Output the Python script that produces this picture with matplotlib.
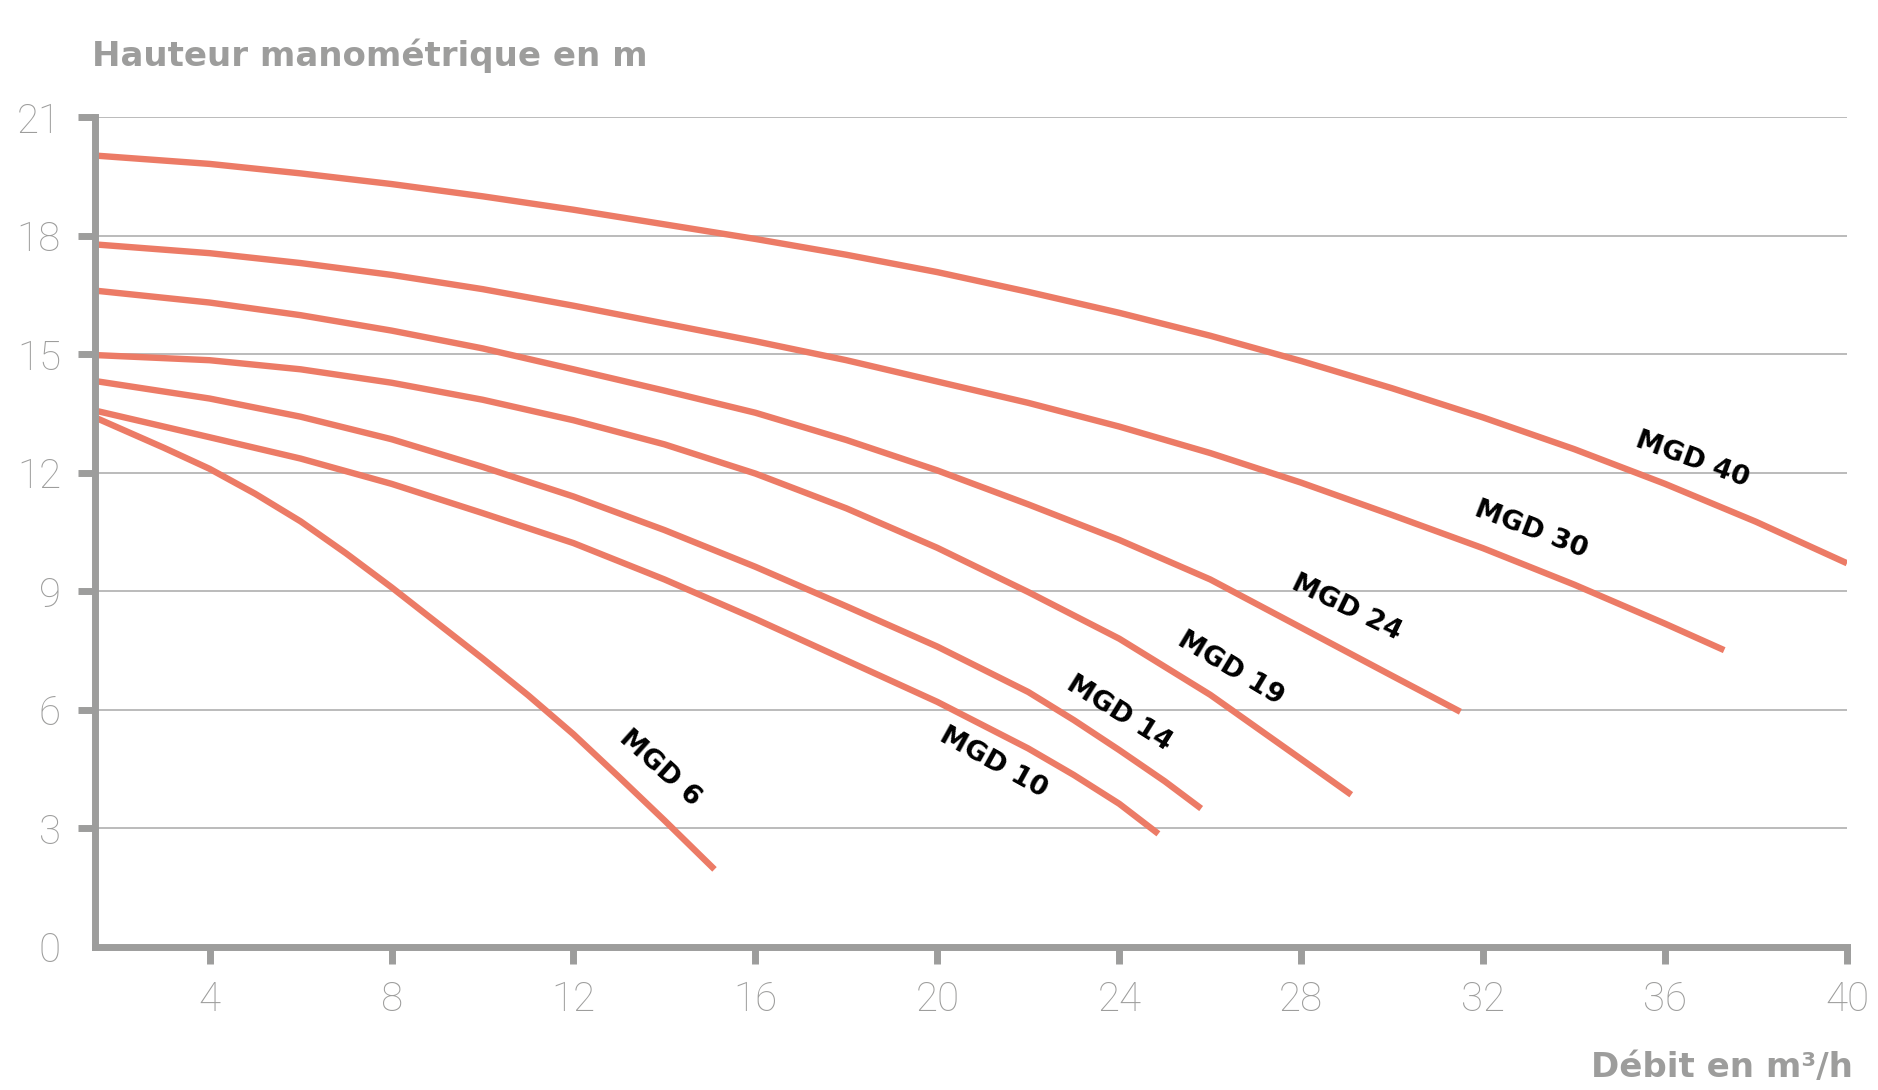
import matplotlib.pyplot as plt
import numpy as np

# pump curves: flow (m3/h) and head (m)
q_mgd40 = [1.5, 4, 6, 8, 10, 12, 14, 16, 18, 20, 22, 24, 26, 28, 30, 32, 34, 36, 38, 40]
h_mgd40 = [20.03, 19.82, 19.58, 19.31, 19.0, 18.66, 18.29, 17.92, 17.52, 17.08,
           16.58, 16.05, 15.47, 14.83, 14.14, 13.4, 12.6, 11.72, 10.76, 9.71]

q_mgd30 = [1.5, 4, 6, 8, 10, 12, 14, 16, 18, 20, 22, 24, 26, 28, 30, 32, 34, 36, 37.3]
h_mgd30 = [17.78, 17.56, 17.31, 17.01, 16.65, 16.23, 15.78, 15.33, 14.85, 14.31,
           13.77, 13.17, 12.5, 11.75, 10.93, 10.09, 9.17, 8.18, 7.51]

q_mgd24 = [1.5, 4, 6, 8, 10, 12, 14, 16, 18, 20, 22, 24, 26, 28, 30, 31.5]
h_mgd24 = [16.61, 16.31, 15.99, 15.6, 15.15, 14.62, 14.08, 13.52, 12.83, 12.06,
           11.2, 10.3, 9.3, 8.08, 6.86, 5.95]

q_mgd19 = [1.5, 4, 6, 8, 10, 12, 14, 16, 18, 20, 22, 24, 26, 28, 29.1]
h_mgd19 = [14.98, 14.85, 14.62, 14.28, 13.85, 13.33, 12.72, 11.98, 11.1, 10.1,
           8.98, 7.8, 6.38, 4.75, 3.85]

q_mgd14 = [1.5, 4, 6, 8, 10, 12, 14, 16, 18, 20, 22, 23, 24, 25, 25.8]
h_mgd14 = [14.32, 13.88, 13.42, 12.85, 12.15, 11.4, 10.55, 9.62, 8.62, 7.6, 6.45,
           5.74, 4.98, 4.19, 3.5]

q_mgd10 = [1.5, 4, 6, 8, 10, 12, 14, 16, 18, 20, 22, 23, 24, 24.86]
h_mgd10 = [13.57, 12.9, 12.36, 11.72, 10.98, 10.22, 9.3, 8.3, 7.25, 6.2, 5.02, 4.35, 3.62, 2.86]

q_mgd6 = [1.5, 3, 4, 5, 6, 7, 8, 9, 10, 11, 12, 13, 14, 15.1]
h_mgd6 = [13.39, 12.63, 12.1, 11.47, 10.77, 9.96, 9.1, 8.2, 7.3, 6.37, 5.38, 4.3, 3.2, 1.96]

curve_names = ["MGD 40", "MGD 30", "MGD 24", "MGD 19", "MGD 14", "MGD 10", "MGD 6"]
curves = [(q_mgd40, h_mgd40), (q_mgd30, h_mgd30), (q_mgd24, h_mgd24), (q_mgd19, h_mgd19),
          (q_mgd14, h_mgd14), (q_mgd10, h_mgd10), (q_mgd6, h_mgd6)]

x_ticks = [4, 8, 12, 16, 20, 24, 28, 32, 36, 40]
y_ticks = [0, 3, 6, 9, 12, 15, 18, 21]

# where each name sits on the chart and its angle
label_spots = [(36.6, 12.32, -20), (33.05, 10.55, -21), (29.0, 8.59, -26), (26.44, 7.03, -31),
               (24.0, 5.91, -32), (21.23, 4.67, -29), (13.9, 4.52, -42)]

grey = "#9d9d9c"
salmon = "#ec7b66"
tick_font = ["Liberation Sans Narrow", "Roboto", "DejaVu Sans"]

fig = plt.figure(figsize=(18.78, 10.90), dpi=100)
ax = fig.add_axes([0.0506, 0.13138, 0.93289, 0.76101])

for (q, h) in curves:
    ax.plot(q, h, color=salmon, lw=4.6, solid_capstyle="butt", solid_joinstyle="round", zorder=2)

for (x, y, rot), name in zip(label_spots, curve_names):
    ax.text(x, y, name, rotation=rot, rotation_mode="anchor", ha="center", va="center",
            fontsize=19.5, fontweight="bold", color="black", family="DejaVu Sans")

ax.set_xlim(1.48, 40)
ax.set_ylim(0, 21)
ax.set_xticks(x_ticks)
ax.set_yticks(y_ticks)
ax.set_xticklabels([str(t) for t in x_ticks], family=tick_font, fontweight="light")
ax.set_yticklabels([str(t) for t in y_ticks], family=tick_font, fontweight="light")

ax.grid(axis="y", color="#a8a8a8", lw=1.1, zorder=0)
ax.set_axisbelow(True)

for side in ["top", "right"]:
    ax.spines[side].set_visible(False)
for side in ["left", "bottom"]:
    ax.spines[side].set_color(grey)
    ax.spines[side].set_linewidth(5)
    ax.spines[side].set_capstyle("projecting")
    ax.spines[side].set_zorder(3)

ax.tick_params(axis="both", colors=grey, width=5, length=12.5, labelsize=29, labelcolor=grey)
ax.tick_params(axis="y", pad=12)
ax.tick_params(axis="x", pad=12)
ax.yaxis.get_major_ticks()[0].tick1line.set_visible(False)

fig.text(91.5 / 1878, 1 - 66 / 1090, "Hauteur manométrique en m", ha="left", va="baseline",
         fontsize=24.5, fontweight="bold", color=grey)
fig.text(1853 / 1878, 1 - 1077 / 1090, "Débit en m³/h", ha="right", va="baseline",
         fontsize=24.5, fontweight="bold", color=grey)

fig.savefig("out.png", dpi=100, facecolor="white")
